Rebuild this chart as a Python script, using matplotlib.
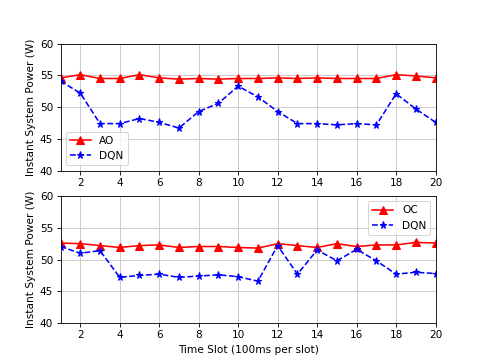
import numpy as np
import matplotlib.pyplot as plt

slots = np.arange(1, 21)

# Potencia instantánea (W)
ao_power = [54.6, 55.1, 54.5, 54.5, 55.1, 54.6, 54.4, 54.5, 54.4, 54.5,
            54.5, 54.6, 54.5, 54.6, 54.5, 54.5, 54.5, 55.1, 54.9, 54.6]
dqn_top = [54.1, 52.2, 47.4, 47.4, 48.2, 47.6, 46.7, 49.3, 50.6, 53.3,
           51.6, 49.3, 47.4, 47.4, 47.2, 47.4, 47.2, 52.1, 49.7, 47.6]
oc_power = [52.6, 52.5, 52.2, 51.9, 52.2, 52.3, 51.9, 52.05, 52.05, 51.9,
            51.8, 52.5, 52.2, 51.9, 52.5, 52.05, 52.3, 52.3, 52.7, 52.6]
dqn_bottom = [52.05, 51.0, 51.4, 47.2, 47.5, 47.7, 47.2, 47.4, 47.6, 47.3,
              46.6, 52.2, 47.7, 51.5, 49.8, 51.6, 49.8, 47.7, 48.0, 47.8]

fig, axes = plt.subplots(2, 1, figsize=(6.4, 4.8))

# Panel superior: AO vs DQN
axes[0].plot(slots, ao_power, 'r-^', ms=7.5, label='AO')
axes[0].plot(slots, dqn_top, 'b--*', ms=7, label='DQN')
axes[0].legend(loc='lower left')

# Panel inferior: OC vs DQN
axes[1].plot(slots, oc_power, 'r-^', ms=7.5, label='OC')
axes[1].plot(slots, dqn_bottom, 'b--*', ms=7, label='DQN')
axes[1].legend(loc='upper right')
axes[1].set_xlabel('Time Slot (100ms per slot)')

for ax in axes:
    ax.set_xlim(1, 20)
    ax.set_ylim(40, 60)
    ax.set_xticks(np.arange(2, 21, 2))
    ax.set_yticks(np.arange(40, 61, 5))
    ax.set_ylabel('Instant System Power (W)')
    ax.grid(True, color='#c4c4c4')

plt.savefig('out.png', dpi=75.625)
